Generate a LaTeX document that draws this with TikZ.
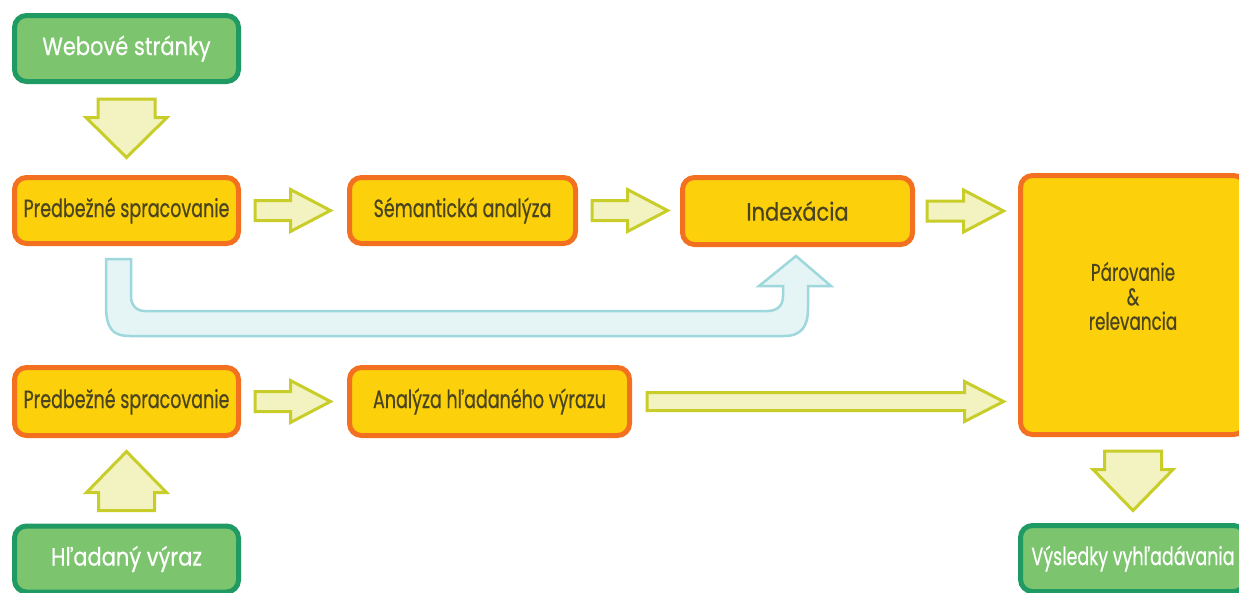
\documentclass[tikz,border=0pt]{standalone}
\usepackage{fontspec}
\setmainfont{Poppins}
\newfontfamily\regfont[FakeStretch=0.84,FakeBold=0.5]{Poppins}
\newfontfamily\condfont[FakeStretch=0.70,FakeBold=0.5]{Poppins}
\usetikzlibrary{calc}
\definecolor{gfill}{HTML}{7DC46E}
\definecolor{gline}{HTML}{1F9A63}
\definecolor{ofill}{HTML}{FCD00A}
\definecolor{oline}{HTML}{F37021}
\definecolor{afill}{HTML}{F2F3C0}
\definecolor{aline}{HTML}{C8CD2A}
\definecolor{bfill}{HTML}{E5F4F5}
\definecolor{bline}{HTML}{9ED8DC}
\definecolor{dtext}{HTML}{4A4520}
\tikzset{
  gbox/.style={draw=gline, fill=gfill, line width=5pt, rounded corners=12pt, text=white, inner sep=0pt,
    font=\regfont\fontsize{25}{28}\selectfont},
  gboxc/.style={gbox, font=\condfont\fontsize{25}{28}\selectfont},
  obox/.style={draw=oline, fill=ofill, line width=5pt, rounded corners=12pt, text=dtext, inner sep=0pt,
    font=\condfont\fontsize{25}{28}\selectfont},
  oboxr/.style={obox, font=\regfont\fontsize{25}{28}\selectfont},
  fat/.style={draw=aline, fill=afill, line width=3pt, line join=miter},
  uturn/.style={draw=bline, fill=bfill, line width=2.5pt, line join=miter},
  lbl/.style={text=dtext, inner sep=0pt, align=center, font=\condfont\fontsize{24}{24.5}\selectfont},
}
% horizontal block arrow: from, to, gap start, gap end, shaft half, head half, head length
\newcommand\rfat[7]{%
  \draw[fat] let \p1=(#1.east), \p2=(#2.west) in
    (\x1+#3,\y1+#5) -- (\x2-#4-#7,\y1+#5) -- (\x2-#4-#7,\y1+#6) -- (\x2-#4,\y1)
    -- (\x2-#4-#7,\y1-#6) -- (\x2-#4-#7,\y1-#5) -- (\x1+#3,\y1-#5) -- cycle;}
% downward block arrow
\newcommand\dfat[7]{%
  \draw[fat] let \p1=(#1.south), \p2=(#2.north) in
    (\x1-#5,\y1-#3) -- (\x1-#5,\y2+#4+#7) -- (\x1-#6,\y2+#4+#7) -- (\x1,\y2+#4)
    -- (\x1+#6,\y2+#4+#7) -- (\x1+#5,\y2+#4+#7) -- (\x1+#5,\y1-#3) -- cycle;}
% upward block arrow
\newcommand\ufat[7]{%
  \draw[fat] let \p1=(#1.north), \p2=(#2.south) in
    (\x1-#5,\y1+#3) -- (\x1-#5,\y2-#4-#7) -- (\x1-#6,\y2-#4-#7) -- (\x1,\y2-#4)
    -- (\x1+#6,\y2-#4-#7) -- (\x1+#5,\y2-#4-#7) -- (\x1+#5,\y1+#3) -- cycle;}
\begin{document}
\begin{tikzpicture}[x=1pt,y=-1pt]
\useasboundingbox (0,0) rectangle (1239,592);
\clip (0,0) rectangle (1239,592);

% boxes
\node[gbox, minimum width=224pt, minimum height=66pt] (web) at (126.5,48.5) {Webové stránky};
\node[obox, minimum width=224pt, minimum height=66pt] (pre1) at (126.5,210.5) {Predbežné spracovanie};
\node[obox, minimum width=226pt, minimum height=66pt] (sem) at (462.5,210.5) {Sémantická analýza};
\node[oboxr, minimum width=230pt, minimum height=67pt] (idx) at (797.5,211) {Indexácia};
\node[obox, minimum width=225pt, minimum height=259pt] (par) at (1133,305) {};
\node[lbl] (parlbl) at (1133,296) {Párovanie\\\&\\relevancia};
\node[obox, minimum width=224pt, minimum height=68pt] (pre2) at (126.5,401.5) {Predbežné spracovanie};
\node[obox, minimum width=280pt, minimum height=68pt] (ana) at (489.5,401.5) {Analýza hľadaného výrazu};
\node[gbox, minimum width=224pt, minimum height=66pt] (qry) at (126.5,559) {Hľadaný výraz};
\node[gboxc, minimum width=225pt, minimum height=66pt] (res) at (1133,558.5) {Výsledky vyhľadávania};

% block arrows
\dfat{web}{pre1}{15pt}{17.5pt}{28.5pt}{40.5pt}{40pt}
\rfat{pre1}{sem}{14pt}{16.5pt}{10pt}{21pt}{40pt}
\rfat{sem}{idx}{14pt}{12.5pt}{10pt}{21pt}{40pt}
\rfat{idx}{par}{12pt}{14.5pt}{10pt}{21pt}{40pt}
\rfat{pre2}{ana}{14pt}{16.5pt}{10pt}{21pt}{40pt}
\rfat{ana}{par}{15pt}{14.5pt}{9pt}{20pt}{39pt}
\ufat{qry}{pre2}{13pt}{13.5pt}{28pt}{40pt}{41pt}
\dfat{par}{res}{14pt}{12.5pt}{28.5pt}{40pt}{41pt}

% U-turn arrow from first preprocessing to indexing
\coordinate (ustart) at (118.5,259);
\coordinate (uend) at (796,256);
\draw[uturn] (106,259) -- (106,305) .. controls (106,328) and (112,336) .. (130,336)
  -- (784,336) .. controls (802,336) and (808,326) .. (808,308) -- (808,286)
  -- (831,286) -- (uend) -- (759,286) -- (783,286) -- (783,296)
  .. controls (783,306) and (777,311) .. (767,311) -- (145,311)
  .. controls (136,311) and (131,305) .. (131,296) -- (131,259) -- cycle;
\end{tikzpicture}
\end{document}
